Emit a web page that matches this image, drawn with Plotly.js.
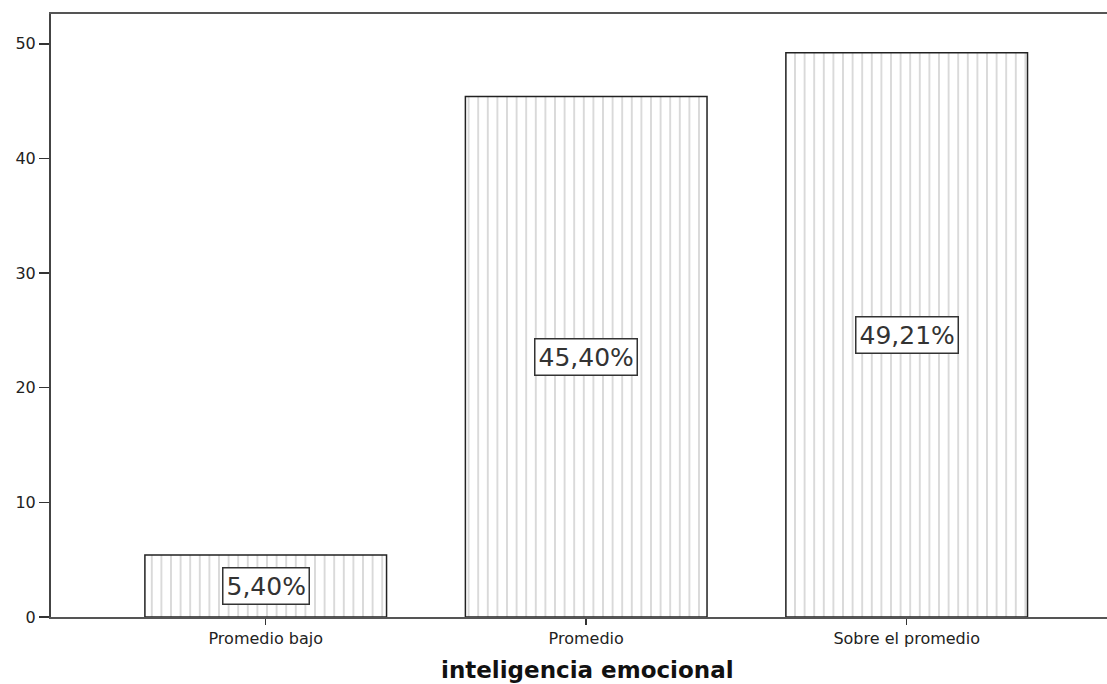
<!DOCTYPE html>
<html>
<head>
<meta charset="utf-8">
<script src="https://cdn.plot.ly/plotly-3.0.1.min.js"></script>
<style>html,body{margin:0;padding:0;background:#fff;overflow:hidden;}#chart{width:1107px;height:684px;}</style>
</head>
<body>
<div id="chart"></div>
<script>
var categories = ["Promedio bajo", "Promedio", "Sobre el promedio"];
var values = [5.40, 45.40, 49.21];
var labels = ["5,40%", "45,40%", "49,21%"];
var yTicks = [0, 10, 20, 30, 40, 50];
var xTitle = "inteligencia emocional";

var FONT = "DejaVu Sans, Verdana, sans-serif";

var trace = {
  type: "bar",
  x: categories,
  y: values,
  width: 0.754,
  marker: {
    color: "#ffffff",
    line: {color: "#222", width: 1.5},
    pattern: {shape: "|", fgcolor: "#b4b4b4", bgcolor: "#ffffff", size: 9.6, solidity: 0.1}
  },
  hoverinfo: "none"
};

var annotations = categories.map(function(c, i) {
  return {
    x: c, y: values[i] / 2, xref: "x", yref: "y",
    text: labels[i], showarrow: false,
    font: {family: FONT, size: 25, color: "#333"},
    bgcolor: "#ffffff", bordercolor: "#333", borderwidth: 1.5, borderpad: 3
  };
});

annotations.push({
  x: 0.508, y: 0, xref: "paper", yref: "paper",
  yshift: -53, xanchor: "center", yanchor: "middle",
  text: "<b>" + xTitle + "</b>", showarrow: false,
  font: {family: FONT, size: 23, color: "#111"}
});

var layout = {
  width: 1107, height: 684,
  margin: {l: 51, r: 0, t: 14, b: 67},
  paper_bgcolor: "#ffffff", plot_bgcolor: "#ffffff",
  showlegend: false,
  font: {family: FONT, color: "#222"},
  xaxis: {
    type: "category",
    range: [-0.67, 2.625],
    showline: true, linecolor: "#555", linewidth: 2, mirror: true,
    ticks: "outside", ticklen: 6, tickcolor: "#333", tickwidth: 1.5,
    showgrid: false, zeroline: false,
    tickfont: {family: FONT, size: 16, color: "#222"}
  },
  yaxis: {
    range: [0, 52.6],
    tickvals: yTicks, ticktext: yTicks.map(String),
    showline: true, linecolor: "#444", linewidth: 2,
    ticks: "outside", ticklen: 10, tickcolor: "#333", tickwidth: 1.5,
    showgrid: false, zeroline: false,
    tickfont: {family: FONT, size: 16, color: "#222"}
  },
  annotations: annotations
};

Plotly.newPlot("chart", [trace], layout, {displayModeBar: false, staticPlot: true});
</script>
</body>
</html>
